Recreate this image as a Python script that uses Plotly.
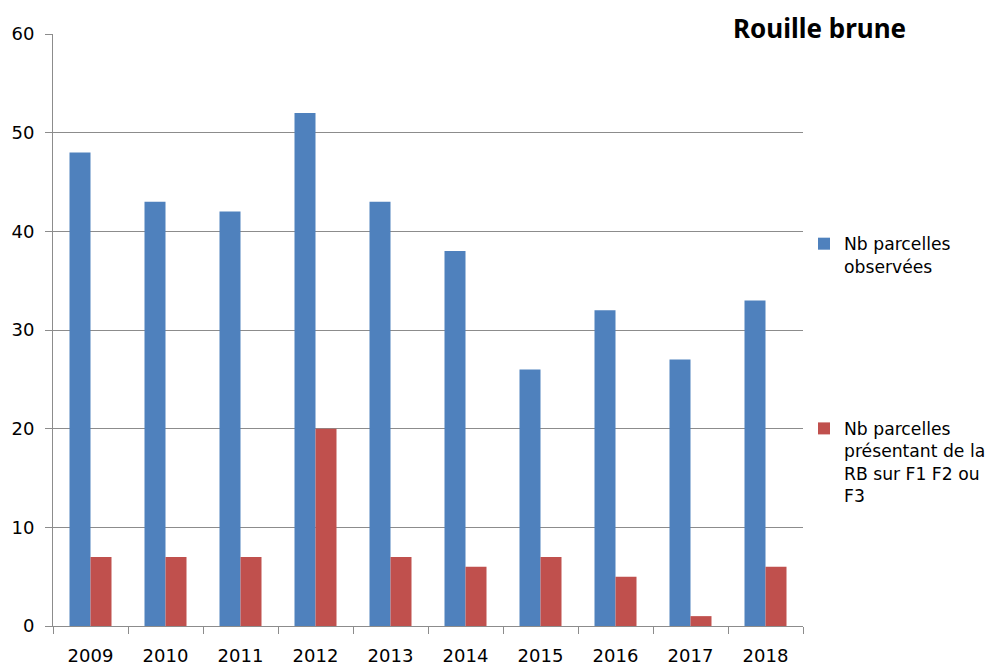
import plotly.graph_objects as go

years = ["2009", "2010", "2011", "2012", "2013", "2014", "2015", "2016", "2017", "2018"]
observed = [48, 43, 42, 52, 43, 38, 26, 32, 27, 33]
with_rb = [7, 7, 7, 20, 7, 6, 7, 5, 1, 6]
name_obs = "Nb parcelles<br>observées"
name_rb = "Nb parcelles<br>présentant de la<br>RB sur F1 F2 ou<br>F3"
title = "Rouille brune"

FONT = "DejaVu Sans"
GRID = "#8c8c8c"
OFF = 8  # page body margin

fig = go.Figure()
fig.add_trace(go.Bar(x=years, y=observed, name=name_obs, marker_color="#4f81bd",
                     legendgroup="a", marker_line_width=0))
fig.add_trace(go.Bar(x=years, y=with_rb, name=name_rb, marker_color="#c0504d",
                     legendgroup="b", marker_line_width=0))

fig.update_layout(
    width=996, height=664,
    margin=dict(l=53 - OFF, r=996 - 803 + OFF, t=34 - OFF, b=38 + OFF, autoexpand=False),
    paper_bgcolor="white", plot_bgcolor="white",
    barmode="group", bargap=0.44, bargroupgap=0,
    font=dict(family=FONT, size=18, color="black"),
    showlegend=True,
    legend=dict(xref="container", yref="container", x=(804 - OFF) / 996, xanchor="left",
                y=1 - (226 - OFF) / 664, yanchor="top",
                traceorder="grouped", tracegroupgap=137,
                font=dict(size=17.2, family=FONT), itemwidth=30,
                valign="top", bgcolor="rgba(0,0,0,0)"),
    annotations=[dict(text="<b>" + title + "</b>", xref="paper", yref="paper",
                      x=(819 - 53) / 750, xanchor="center",
                      y=(664 - 28 - 38) / 592, yanchor="middle",
                      showarrow=False, font=dict(size=26, family="Noto Sans"))],
)

fig.update_xaxes(type="category", tickson="boundaries", ticks="outside", ticklen=7,
                 tickcolor=GRID, showline=True, linecolor=GRID, linewidth=1,
                 showgrid=False, tickfont=dict(size=18), ticklabelstandoff=13,
                 automargin=False)
fig.update_yaxes(range=[0, 60], dtick=10, ticks="outside", ticklen=7, tickcolor=GRID,
                 showline=True, linecolor=GRID, linewidth=1, showgrid=True,
                 gridcolor=GRID, gridwidth=1, zeroline=False, tickfont=dict(size=18),
                 ticklabelstandoff=7, automargin=False)

fig.write_html("out.html")
